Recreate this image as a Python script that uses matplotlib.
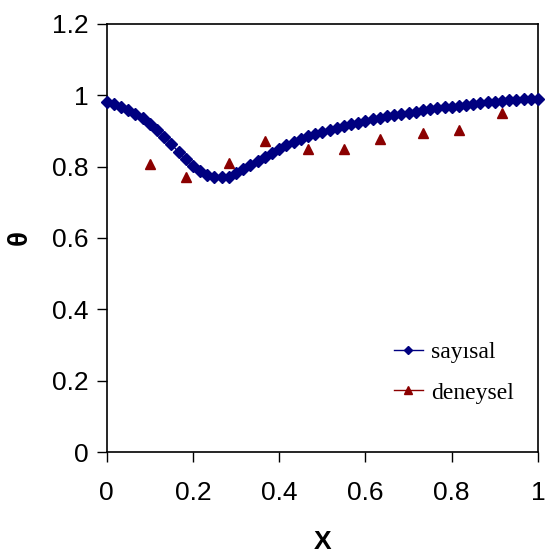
import numpy as np
import matplotlib
matplotlib.use("Agg")
import matplotlib.pyplot as plt
from matplotlib.lines import Line2D

# numerical (sayısal) series: 61 evenly spaced points on [0, 1]
x_num = np.linspace(0.0, 1.0, 61)
theta_num = [0.980, 0.976, 0.968, 0.960, 0.947, 0.935, 0.919, 0.903, 0.883, 0.863,
             0.841, 0.821, 0.802, 0.787, 0.776, 0.771, 0.770, 0.772, 0.781, 0.792,
             0.804, 0.816, 0.828, 0.839, 0.849, 0.860, 0.869, 0.877, 0.886, 0.891,
             0.897, 0.904, 0.908, 0.913, 0.919, 0.923, 0.928, 0.933, 0.937, 0.941,
             0.944, 0.948, 0.950, 0.954, 0.958, 0.962, 0.964, 0.966, 0.968, 0.970,
             0.973, 0.976, 0.978, 0.980, 0.982, 0.984, 0.986, 0.988, 0.989, 0.990,
             0.990]

# experimental (deneysel) series
x_exp = [0.100, 0.184, 0.283, 0.368, 0.467, 0.550, 0.633, 0.734, 0.817, 0.917]
theta_exp = [0.807, 0.770, 0.811, 0.871, 0.850, 0.850, 0.877, 0.893, 0.903, 0.951]

x_ticks = [0, 0.2, 0.4, 0.6, 0.8, 1]
x_ticklabels = ["0", "0.2", "0.4", "0.6", "0.8", "1"]
y_ticks = [0, 0.2, 0.4, 0.6, 0.8, 1, 1.2]
y_ticklabels = ["0", "0.2", "0.4", "0.6", "0.8", "1", "1.2"]

NAVY = "#000080"
DRED = "#8B0000"

fig = plt.figure(figsize=(5.47, 5.57), dpi=100)
ax = fig.add_axes([0.195, 0.1885, 0.7885, 0.7685])

ax.plot(x_num, theta_num, color=NAVY, marker="D", markersize=6.5,
        linewidth=1.0, clip_on=False, zorder=3)
ax.plot(x_exp, theta_exp, color=DRED, marker="^", markersize=7,
        linestyle="none", zorder=3)

ax.set_xlim(0, 1)
ax.set_ylim(0, 1.2)
ax.set_xticks(x_ticks)
ax.set_xticklabels(x_ticklabels)
ax.set_yticks(y_ticks)
ax.set_yticklabels(y_ticklabels)

for lab in ax.get_xticklabels() + ax.get_yticklabels():
    lab.set_fontfamily("Liberation Sans")
    lab.set_fontsize(19)

ax.tick_params(axis="both", direction="out", length=7, width=1.0, color="black")
ax.tick_params(axis="x", pad=14)
ax.tick_params(axis="y", pad=6)

for sp in ax.spines.values():
    sp.set_color("black")
    sp.set_linewidth(1.2)

ax.set_xlabel("X", fontfamily="Liberation Sans", fontsize=19, fontweight="bold", labelpad=18)
ax.set_ylabel("θ", fontfamily="Liberation Sans", fontsize=20, fontweight="bold", labelpad=14)

handles = [
    Line2D([], [], color=NAVY, marker="D", markersize=4.5, linewidth=1.0),
    Line2D([], [], color=DRED, marker="^", markersize=5.5, linewidth=1.0),
]
leg = ax.legend(handles, ["sayısal", "deneysel"], loc="upper left",
                bbox_to_anchor=(0.645, 0.28), frameon=False,
                prop={"family": "Liberation Serif", "size": 17},
                handlelength=1.2, handletextpad=0.35, labelspacing=0.8,
                borderaxespad=0.0)

fig.savefig("out.png", dpi=100)
